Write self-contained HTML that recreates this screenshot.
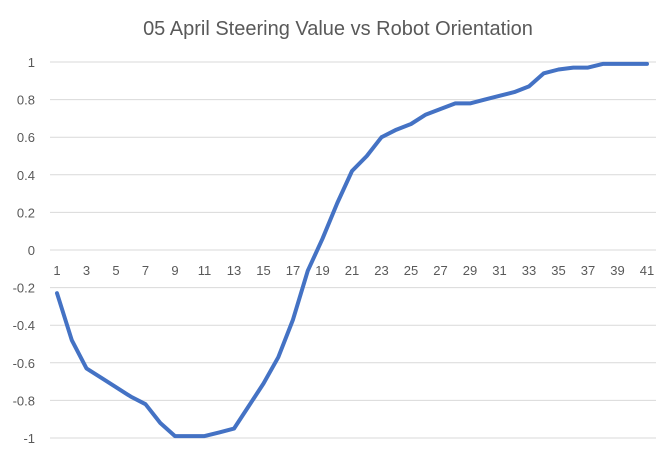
<!DOCTYPE html>
<html><head><meta charset="utf-8"><style>
body{margin:0;background:#fff;font-family:"Liberation Sans",sans-serif}
svg text{font-family:"Liberation Sans",sans-serif;fill:#595959}
</style></head><body>
<svg width="672" height="458">
<rect width="672" height="458" fill="#fff"/>
<text x="338" y="35" font-size="20" text-anchor="middle">05 April Steering Value vs Robot Orientation</text>
<g id="grid"></g><g id="ylab"></g><g id="xlab"></g>
<path id="line" fill="none" stroke="#4472C4" stroke-width="4" stroke-linejoin="round" stroke-linecap="round"/>
</svg>
<script>
const categories=[1,2,3,4,5,6,7,8,9,10,11,12,13,14,15,16,17,18,19,20,21,22,23,24,25,26,27,28,29,30,31,32,33,34,35,36,37,38,39,40,41];
const values=[-0.23,-0.48,-0.63,-0.68,-0.73,-0.78,-0.82,-0.92,-0.99,-0.99,-0.99,-0.97,-0.95,-0.83,-0.71,-0.57,-0.37,-0.11,0.06,0.25,0.42,0.5,0.6,0.64,0.67,0.72,0.75,0.78,0.78,0.8,0.82,0.84,0.87,0.94,0.96,0.97,0.97,0.99,0.99,0.99,0.99];
const yTicks=[1,0.8,0.6,0.4,0.2,0,-0.2,-0.4,-0.6,-0.8,-1];
const NS="http://www.w3.org/2000/svg";
const y=v=>250-v*188;
const x=i=>57+(i)*(590/(categories.length-1));
const grid=document.getElementById('grid'),yl=document.getElementById('ylab'),xl=document.getElementById('xlab');
yTicks.forEach(t=>{
 const l=document.createElementNS(NS,'line');
 l.setAttribute('x1',50);l.setAttribute('x2',656);l.setAttribute('y1',y(t));l.setAttribute('y2',y(t));
 l.setAttribute('stroke','#d9d9d9');l.setAttribute('stroke-width','1');
 
 
 grid.appendChild(l);
 const tx=document.createElementNS(NS,'text');
 tx.setAttribute('x',35);tx.setAttribute('y',y(t)+5);tx.setAttribute('font-size','13');tx.setAttribute('text-anchor','end');
 tx.textContent=String(t);
 
 
 yl.appendChild(tx);
});
categories.forEach((c,i)=>{
 if(i%2!==0)return;
 const tx=document.createElementNS(NS,'text');
 tx.setAttribute('x',x(i));tx.setAttribute('y',275);tx.setAttribute('font-size','13');tx.setAttribute('text-anchor','middle');
 tx.textContent=String(c);
 
 
 xl.appendChild(tx);
});
document.getElementById('line').setAttribute('d',values.map((v,i)=>(i?'L':'M')+x(i).toFixed(1)+','+y(v).toFixed(1)).join(''));
</script>
</body></html>
